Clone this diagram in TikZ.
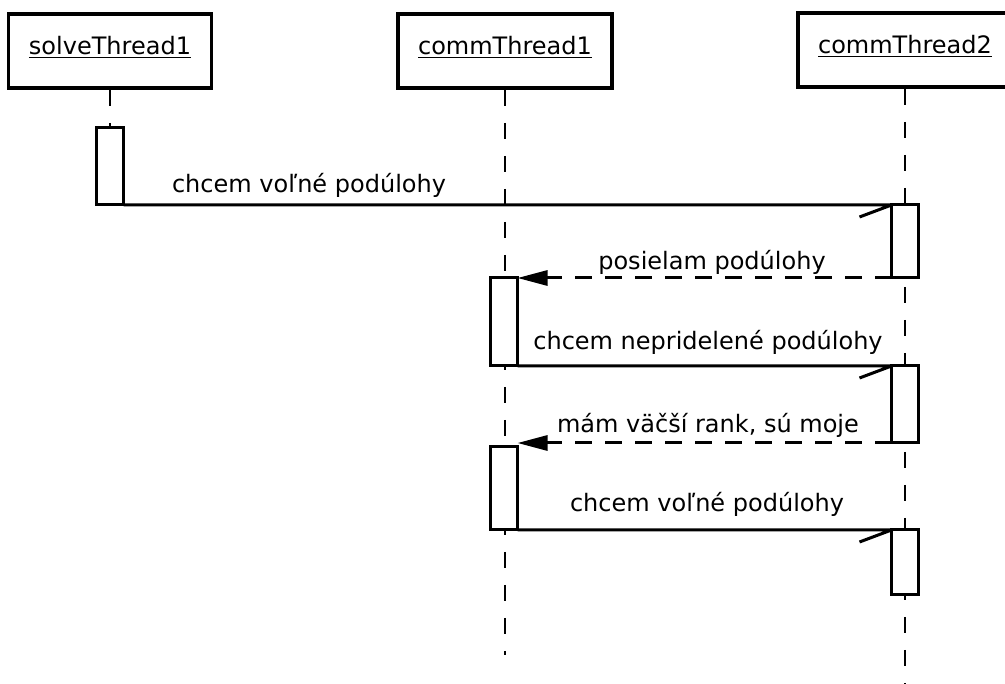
\documentclass[tikz,border=0pt]{standalone}
\usepackage{fontspec}
\setmainfont{DejaVu Sans}
\usetikzlibrary{arrows.meta}
\begin{document}
\begin{tikzpicture}[x=1pt,y=-1pt,
  every node/.style={font=\fontsize{24}{27}\selectfont},
  head/.style={draw, line width=3.6pt, minimum width=203pt, minimum height=74pt, inner sep=0, fill=white},
  life/.style={line width=2.2pt, dash pattern=on 16pt off 17pt},
  act/.style={draw, line width=3pt, fill=white, minimum width=27pt, inner sep=0, outer sep=0, anchor=north},
  msg/.style={line width=3pt},
  ret/.style={line width=3pt, dash pattern=on 17pt off 13pt, -{Triangle[length=30pt,width=15pt]}},
  lbl/.style={anchor=base, inner sep=0}]
\useasboundingbox (0,0) rectangle (1005,684);
\clip (0,0) rectangle (1005,684);
% headers
\node[head] (h1) at (110,51) {};
\node[head, minimum width=214pt] (h2) at (505,51) {};
\node[head, minimum width=214pt] (h3) at (905,50) {};
\node[lbl] at (110,55) {\underline{solveThread1}};
\node[lbl] at (505,55) {\underline{commThread1}};
\node[lbl] at (905,54) {\underline{commThread2}};
% lifeline ends
\coordinate (e1) at (110,218);
\coordinate (e2) at (505,655);
\coordinate (e3) at (905,684);
\draw[life] (h1.south) -- (e1);
\draw[life] (h2.south) -- (e2);
\draw[life] (h3.south) -- (e3);
% activations
\node[act, minimum height=77pt] (s1) at (110,128) {};
\node[act, minimum height=73pt] (c2a) at (905,205) {};
\node[act, minimum height=88pt] (c1a) at (504,278) {};
\node[act, minimum height=77pt] (c2b) at (905,366) {};
\node[act, minimum height=83pt] (c1b) at (504,447) {};
\node[act, minimum height=65pt] (c2c) at (905,530) {};
% messages
\draw[msg] (s1.south east) -- (c2a.north west) -- ++(-32,12);
\node[lbl] (l1) at (309,193) {chcem voľné podúlohy};
\draw[ret] (c2a.south west) -- (c1a.north east);
\node[lbl] (l2) at (712,270) {posielam podúlohy};
\draw[msg] (c1a.south east) -- (c2b.north west) -- ++(-32,12);
\node[lbl] (l3) at (708,350) {chcem nepridelené podúlohy};
\draw[ret] (c2b.south west) -- (c1b.north east |- c2b.south west);
\node[lbl] (l4) at (708,433) {mám väčší rank, sú moje};
\draw[msg] (c1b.south east) -- (c2c.north west) -- ++(-32,12);
\node[lbl] (l5) at (707,512) {chcem voľné podúlohy};
\end{tikzpicture}
\end{document}
